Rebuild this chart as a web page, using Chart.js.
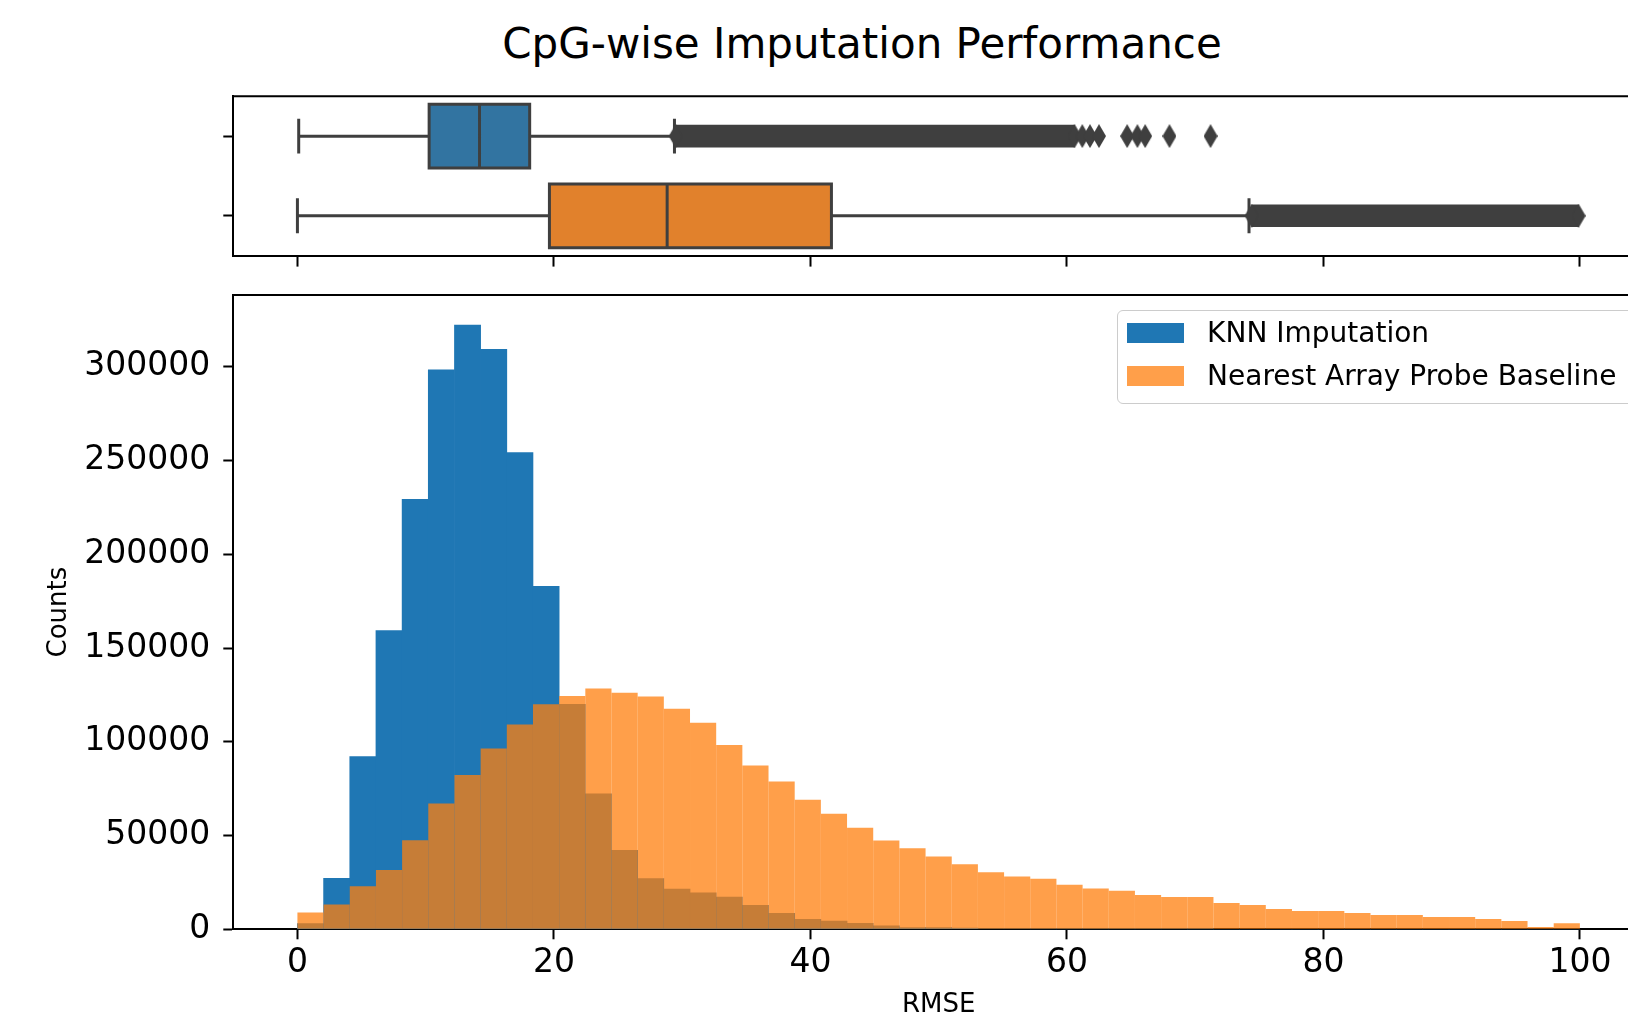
<!DOCTYPE html>
<html>
<head>
<meta charset="utf-8">
<title>CpG-wise Imputation Performance</title>
<script src="https://cdn.jsdelivr.net/npm/chart.js@4.4.0/dist/chart.umd.min.js"></script>
<style>
  html, body { margin: 0; padding: 0; background: #fff; overflow: hidden; }
  body { width: 1628px; height: 1013px; position: relative; font-family: "DejaVu Sans", sans-serif; }
  #figTitle {
    position: absolute; left: 0; top: 23px; width: 1724px;
    text-align: center; font-size: 42px; line-height: 42px; color: #000;
  }
  #boxCanvas { position: absolute; left: 0; top: 80px; }
  #histCanvas { position: absolute; left: 0; top: 240px; }
  #histCanvas-legend {
    position: absolute; left: 1116.8px; top: 310px; width: 540px; height: 94px;
    box-sizing: border-box; border: 1.5px solid #cccccc; border-radius: 6px;
    background: rgba(255, 255, 255, 0.8);
  }
  #histCanvas-legend ul { list-style: none; margin: 0; padding: 0; }
  #histCanvas-legend li {
    display: flex; align-items: center; height: 43px; white-space: nowrap;
    font-family: "DejaVu Sans", sans-serif; font-size: 28px; color: #000;
  }
  #histCanvas-legend li span { display: inline-block; width: 57px; height: 20px; margin: 0 23px 0 9.3px; }
</style>
</head>
<body>
<div id="figTitle">CpG-wise Imputation Performance</div>
<canvas id="boxCanvas" width="1660" height="190"></canvas>
<canvas id="histCanvas" width="1660" height="790"></canvas>
<div id="histCanvas-legend"></div>

<script>
  const FONT = '"DejaVu Sans", sans-serif';

  const groups = ['KNN Imputation', 'Nearest Array Probe Baseline'];
  const histColors = ['#1f77b4', 'rgba(255, 127, 14, 0.75)'];
  const boxColors = ['#3274a1', '#e1812c'];
  const lineGray = '#3f3f3f';

  // 49 equal RMSE bins between 0 and 100
  const binEdges = Array.from({ length: 50 }, (_, i) => i * 100 / 49);

  const knnCounts = [
    3000, 27200, 92100, 159400, 229300, 298500, 322300, 309400, 254300, 182900,
    120000, 72300, 42100, 27000, 21500, 19400, 17200, 12800, 8500, 5300,
    4400, 3200, 1900, 900, 900, 700, 300, 150, 80, 40,
    20, 10, 6, 3, 1, 0, 0, 0, 0, 0,
    0, 0, 0, 0, 0, 0, 0, 0, 0
  ];
  const baselineCounts = [
    9000, 13200, 23000, 31600, 47500, 67100, 82300, 96500, 109300, 120100,
    124500, 128500, 126200, 124200, 117600, 110200, 98300, 87400, 78900, 69100,
    61700, 54200, 47400, 43200, 38900, 34700, 30400, 28100, 27000, 23800,
    21700, 20600, 18300, 17200, 17200, 14000, 13000, 10800, 9800, 9800,
    8700, 7600, 7600, 6600, 6600, 5500, 4400, 1200, 3200
  ];

  // box summaries: [low whisker, q1, median, q3, high whisker]
  const knnBox = [0.1, 10.27, 14.2, 18.11, 29.4];
  const baselineBox = [0, 19.65, 28.83, 41.64, 74.2];
  // outliers packed so tightly they merge into one dark run
  const knnFlierRun = [29.5, 60.6];
  const baselineFlierRun = [74.4, 99.9];
  // outliers standing apart past the run
  const knnFliers = [61.2, 61.8, 62.5, 64.7, 65.5, 66.1, 68.0, 71.2];
  const baselineFliers = [];

  const rmseTicks = [0, 20, 40, 60, 80, 100];
  const countTicks = [0, 50000, 100000, 150000, 200000, 250000, 300000];

  // thin diamond marker for fliers
  function thinDiamond(w, h, color) {
    const c = document.createElement('canvas');
    c.width = w;
    c.height = h;
    const g = c.getContext('2d');
    g.fillStyle = color;
    g.beginPath();
    g.moveTo(w / 2, 0);
    g.lineTo(w, h / 2);
    g.lineTo(w / 2, h);
    g.lineTo(0, h / 2);
    g.closePath();
    g.fill();
    return c;
  }

  // spines on the sides Chart.js has no axis for
  const frame = {
    id: 'frame',
    afterDraw(chart) {
      const { ctx, chartArea: a } = chart;
      ctx.save();
      ctx.strokeStyle = '#000';
      ctx.lineWidth = 2;
      ctx.beginPath();
      ctx.moveTo(a.left - 1, a.top);
      ctx.lineTo(a.right, a.top);
      ctx.lineTo(a.right, a.bottom);
      ctx.stroke();
      ctx.restore();
    }
  };

  const htmlLegend = {
    id: 'htmlLegend',
    afterUpdate(chart) {
      const box = document.getElementById(`${chart.canvas.id}-legend`);
      if (!box) return;
      box.innerHTML = '';
      const ul = document.createElement('ul');
      chart.data.datasets.forEach((ds) => {
        ul.innerHTML += `<li><span style="background-color: ${ds.backgroundColor}"></span>${ds.label}</li>`;
      });
      box.appendChild(ul);
    }
  };

  const axisBase = {
    type: 'linear',
    offset: false,
    z: 1,
    border: { display: true, color: '#000', width: 2 },
    grid: {
      display: true, drawOnChartArea: false, drawTicks: true, offset: false,
      tickLength: 10, tickWidth: 2, tickColor: '#000'
    }
  };

  /* ---------- box plot strip ---------- */
  const boxes = [knnBox, baselineBox];
  const runs = [knnFlierRun, baselineFlierRun];
  const fliers = [knnFliers, baselineFliers];

  const boxLines = [];
  const seg = (pts) => {
    pts.forEach(([x, y]) => boxLines.push({ x, y }));
    boxLines.push({ x: null, y: null });
  };
  boxes.forEach(([lo, q1, med, q3, hi], i) => {
    seg([[lo, i], [q1, i]]);
    seg([[q3, i], [hi, i]]);
    seg([[lo, i - 0.2], [lo, i + 0.2]]);
    seg([[hi, i - 0.2], [hi, i + 0.2]]);
    seg([[q1, i - 0.4], [q3, i - 0.4], [q3, i + 0.4], [q1, i + 0.4], [q1, i - 0.4]]);
    seg([[med, i - 0.4], [med, i + 0.4]]);
  });

  const flierPoints = [];
  fliers.forEach((list, i) => {
    flierPoints.push({ x: runs[i][0], y: i }, { x: runs[i][1], y: i });
    list.forEach((v) => flierPoints.push({ x: v, y: i }));
  });

  new Chart(document.getElementById('boxCanvas'), {
    type: 'bar',
    data: {
      datasets: [{
        type: 'bar',
        data: boxes.map((b, i) => ({ y: i, x: [b[1], b[3]] })),
        backgroundColor: boxColors,
        borderWidth: 0,
        barPercentage: 0.8,
        categoryPercentage: 1,
        grouped: false,
        order: 3
      }, {
        type: 'bar',
        data: runs.map((r, i) => ({ y: i, x: r })),
        backgroundColor: lineGray,
        borderWidth: 0,
        barThickness: 22,
        grouped: false,
        order: 2
      }, {
        type: 'line',
        data: boxLines,
        borderColor: lineGray,
        borderWidth: 3,
        borderCapStyle: 'square',
        borderJoinStyle: 'miter',
        pointRadius: 0,
        spanGaps: false,
        tension: 0,
        fill: false,
        order: 1
      }, {
        type: 'line',
        data: flierPoints,
        showLine: false,
        pointStyle: thinDiamond(14, 24, lineGray),
        pointRadius: 6,
        order: 0
      }]
    },
    options: {
      indexAxis: 'y',
      responsive: false,
      animation: false,
      events: [],
      layout: { padding: { top: 16.3, right: 16, left: 0, bottom: 0 } },
      scales: {
        x: {
          ...axisBase,
          min: -5,
          max: 105,
          grid: { ...axisBase.grid, tickLength: 11 },
          ticks: { display: false },
          afterBuildTicks: (s) => { s.ticks = rmseTicks.map((v) => ({ value: v })); },
          afterFit: (s) => { s.height = 14.4; }
        },
        y: {
          ...axisBase,
          min: -0.5,
          max: 1.5,
          reverse: true,
          ticks: { display: false },
          afterBuildTicks: (s) => { s.ticks = groups.map((_, i) => ({ value: i })); },
          afterFit: (s) => { s.width = 233.3; }
        }
      },
      plugins: { legend: { display: false }, tooltip: { enabled: false } }
    },
    plugins: [frame]
  });

  /* ---------- histogram ---------- */
  const binCenters = binEdges.slice(0, -1).map((e, i) => (e + binEdges[i + 1]) / 2);
  const histSeries = [knnCounts, baselineCounts];

  new Chart(document.getElementById('histCanvas'), {
    type: 'bar',
    data: {
      datasets: histSeries.map((counts, i) => ({
        label: groups[i],
        data: binCenters.map((x, k) => ({ x, y: counts[k] })),
        backgroundColor: histColors[i],
        borderWidth: 0,
        // solid bars can overlap a hair to hide seams; translucent ones must not
        inflateAmount: i === 0 ? 'auto' : 0,
        barPercentage: 1,
        categoryPercentage: 1,
        grouped: false,
        order: 1 - i
      }))
    },
    options: {
      responsive: false,
      animation: false,
      events: [],
      layout: { padding: { top: 54.9, right: 16, left: 0, bottom: 0 } },
      scales: {
        x: {
          ...axisBase,
          min: -5,
          max: 105,
          ticks: { color: '#000', font: { family: FONT, size: 33 }, padding: 4, maxRotation: 0, autoSkip: false },
          title: {
            display: true, text: 'RMSE', color: '#000',
            font: { family: FONT, size: 26 }, padding: { top: 0, bottom: 9.4 }
          },
          afterBuildTicks: (s) => { s.ticks = rmseTicks.map((v) => ({ value: v })); },
          afterFit: (s) => { s.height = 100.7; }
        },
        y: {
          ...axisBase,
          min: 0,
          max: Math.max(...knnCounts, ...baselineCounts) * 1.05,
          ticks: {
            color: '#000', font: { family: FONT, size: 33 }, padding: 13,
            callback: (v) => String(v)
          },
          title: {
            display: true, text: 'Counts', color: '#000',
            font: { family: FONT, size: 26 }, padding: { top: 44, bottom: 0 }
          },
          afterBuildTicks: (s) => { s.ticks = countTicks.map((v) => ({ value: v })); },
          afterFit: (s) => { s.width = 233.3; }
        }
      },
      plugins: { legend: { display: false }, tooltip: { enabled: false } }
    },
    plugins: [frame, htmlLegend]
  });
</script>
</body>
</html>
